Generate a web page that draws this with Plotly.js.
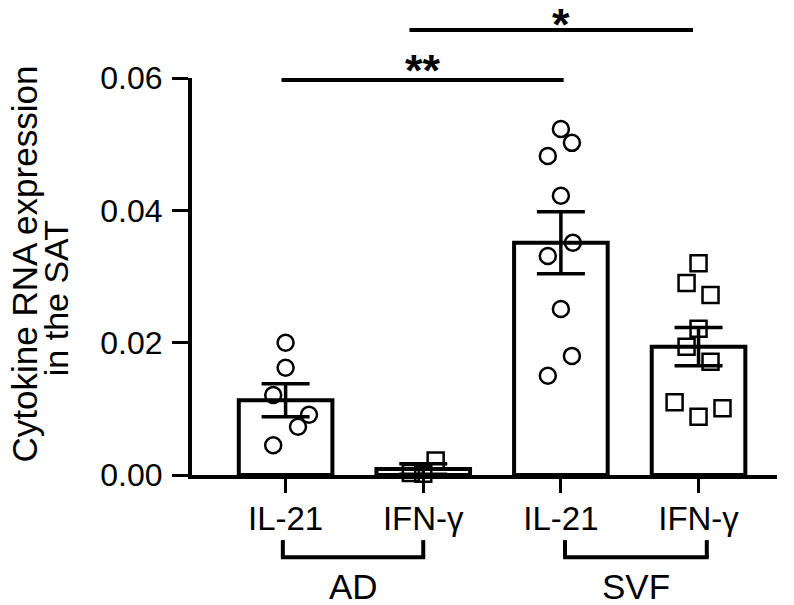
<!DOCTYPE html>
<html>
<head>
<meta charset="utf-8">
<script src="https://cdn.plot.ly/plotly-3.0.1.min.js"></script>
<style>
  html, body { margin: 0; padding: 0; background: #fff; }
  #chart { width: 794px; height: 605px; }
</style>
</head>
<body>
<div id="chart"></div>
<script>
// categories
var cytokines = ['IL-21', 'IFN-γ', 'IL-21', 'IFN-γ'];
var groupNames = ['AD', 'SVF'];
var groupSpans = [[-0.02, 1.0], [2.03, 3.06]];
var yTitle = ['Cytokine RNA expression', 'in the SAT'];

// bar heights (mean) and SEM
var means = [0.0113, 0.0009, 0.0351, 0.0194];
var sems = [0.0025, 0.0008, 0.0047, 0.0029];

// individual samples
var adIL21 = [0.0200, 0.0162, 0.0121, 0.0091, 0.0073, 0.0045];
var adIL21Jitter = [0, 0, -0.09, 0.17, 0.09, -0.09];

var adIFNg = [0.0002, 0.0003, 0.0022];
var adIFNgJitter = [0, -0.09, 0.09];

var svfIL21 = [0.0523, 0.0502, 0.0482, 0.0422, 0.0351, 0.0331, 0.0251, 0.0180, 0.0150];
var svfIL21Jitter = [0, 0.08, -0.095, 0, 0.087, -0.095, 0, 0.08, -0.095];

var svfIFNg = [0.0320, 0.0290, 0.0272, 0.0221, 0.0194, 0.0171, 0.0110, 0.0101, 0.0088];
var svfIFNgJitter = [0, -0.087, 0.087, 0, -0.087, 0.087, -0.174, 0.174, 0];

var pos = cytokines.map((c, i) => i);
var font = 'Arial, "Liberation Sans", sans-serif';

var bars = {
    x: pos,
    y: means,
    type: 'bar',
    width: 0.68,
    marker: {color: 'white', line: {color: 'black', width: 4}},
    error_y: {type: 'data', array: sems, visible: true, color: 'black', thickness: 3.5, width: 24},
    hoverinfo: 'skip'
};

function dots(idx, vals, jitter, symbol) {
    return {
        x: vals.map((v, i) => idx + jitter[i]),
        y: vals,
        type: 'scatter',
        mode: 'markers',
        cliponaxis: false,
        marker: {symbol: symbol, size: 16, color: 'black', line: {color: 'black', width: 2.5}}
    };
}

var traces = [
    bars,
    dots(0, adIL21, adIL21Jitter, 'circle-open'),
    dots(1, adIFNg, adIFNgJitter, 'square-open'),
    dots(2, svfIL21, svfIL21Jitter, 'circle-open'),
    dots(3, svfIFNg, svfIFNgJitter, 'square-open')
];

var shapes = [];
var annotations = [];

// group brackets under the tick labels
groupSpans.forEach(function (span, g) {
    var l = {color: 'black', width: 4};
    shapes.push({type: 'line', xref: 'x', yref: 'paper', x0: span[0], x1: span[0], y0: -0.164, y1: -0.207, line: l});
    shapes.push({type: 'line', xref: 'x', yref: 'paper', x0: span[1], x1: span[1], y0: -0.164, y1: -0.207, line: l});
    shapes.push({type: 'line', xref: 'x', yref: 'paper', x0: span[0] - 0.014, x1: span[1] + 0.014, y0: -0.207, y1: -0.207, line: l});
    annotations.push({
        text: groupNames[g], xref: 'x', yref: 'paper', x: (span[0] + span[1]) / 2, y: -0.28,
        xanchor: 'center', yanchor: 'middle', showarrow: false,
        font: {family: font, size: 35, color: 'black'}
    });
});

// significance bars
var sig = [
    {from: -0.03, to: 2.02, y: 0.995, label: '**', at: 1, ly: 1.018},
    {from: 0.9, to: 2.96, y: 1.121, label: '*', at: 2, ly: 1.134}
];
sig.forEach(function (s) {
    shapes.push({type: 'line', xref: 'x', yref: 'paper', x0: s.from, x1: s.to, y0: s.y, y1: s.y,
        line: {color: 'black', width: 4}});
    annotations.push({
        text: '<b>' + s.label + '</b>', xref: 'x', yref: 'paper', x: s.at, y: s.ly,
        xanchor: 'center', yanchor: 'middle', showarrow: false,
        font: {family: font, size: 45, color: 'black'}
    });
});

// y axis title, two rotated lines
annotations.push({
    text: yTitle[0], xref: 'paper', yref: 'paper', x: -0.286, y: 0.532, textangle: -90,
    xanchor: 'center', yanchor: 'middle', showarrow: false,
    font: {family: font, size: 35, color: 'black'}
});
annotations.push({
    text: yTitle[1], xref: 'paper', yref: 'paper', x: -0.232, y: 0.446, textangle: -90,
    xanchor: 'center', yanchor: 'middle', showarrow: false,
    font: {family: font, size: 34, color: 'black'}
});

var layout = {
    width: 794,
    height: 605,
    margin: {l: 192, r: 17, t: 78, b: 130},
    paper_bgcolor: 'white',
    plot_bgcolor: 'white',
    showlegend: false,
    font: {family: font, color: 'black'},
    xaxis: {
        range: [-0.68, 3.57],
        tickvals: pos,
        ticktext: cytokines,
        ticks: 'outside', ticklen: 14, tickwidth: 3, tickcolor: 'black',
        ticklabelstandoff: -3,
        showline: true, linewidth: 4, linecolor: 'black',
        showgrid: false, zeroline: false,
        tickfont: {family: font, size: 33, color: 'black'}
    },
    yaxis: {
        range: [0, 0.06],
        tickvals: [0, 0.02, 0.04, 0.06],
        tickformat: '.2f',
        ticks: 'outside', ticklen: 16, tickwidth: 3, tickcolor: 'black',
        ticklabelstandoff: 3,
        showline: true, linewidth: 4, linecolor: 'black',
        showgrid: false, zeroline: false,
        tickfont: {family: font, size: 32, color: 'black'}
    },
    shapes: shapes,
    annotations: annotations
};

Plotly.newPlot('chart', traces, layout, {displayModeBar: false, staticPlot: true});
</script>
</body>
</html>
